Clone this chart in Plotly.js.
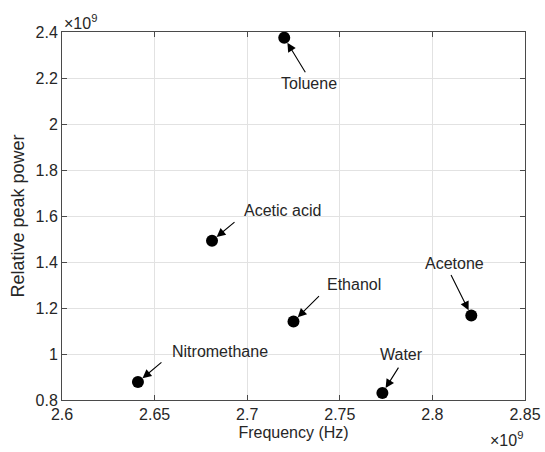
<!DOCTYPE html>
<html>
<head>
<meta charset="utf-8">
<script src="https://cdn.plot.ly/plotly-3.0.1.min.js"></script>
<style>html,body{margin:0;padding:0;background:#fff;}#chart{width:545px;height:452px;}</style>
</head>
<body>
<div id="chart"></div>
<script>
// Values in units of 1e9 (axes show the ×10^9 multiplier)
const solvents = ["Toluene", "Acetic acid", "Ethanol", "Nitromethane", "Water", "Acetone"];
const frequency = [2.720, 2.681, 2.725, 2.641, 2.773, 2.821];   // ×10^9 Hz
const peakPower = [2.375, 1.492, 1.141, 0.878, 0.830, 1.167];   // ×10^9
const xTicks = [2.6, 2.65, 2.7, 2.75, 2.8, 2.85];
const xTickLabels = ["2.6", "2.65", "2.7", "2.75", "2.8", "2.85"];
const yTicks = [0.8, 1, 1.2, 1.4, 1.6, 1.8, 2, 2.2, 2.4];
const yTickLabels = ["0.8", "1", "1.2", "1.4", "1.6", "1.8", "2", "2.2", "2.4"];

// label placement (pixels relative to the point): arrow tail and text centre
const arrowTail = {
  "Toluene": [22, 36], "Acetic acid": [24, -20], "Ethanol": [27, -27],
  "Nitromethane": [25, -21], "Water": [17, -27], "Acetone": [-21, -42]
};
const textCentre = {
  "Toluene": [25, 46], "Acetic acid": [70, -30], "Ethanol": [60, -37],
  "Nitromethane": [82, -31], "Water": [19, -39], "Acetone": [-17, -52]
};

const FONT = "Liberation Sans, Arial, Helvetica, sans-serif";
const ink = "#262626";

const annotations = [];
solvents.forEach((s, i) => {
  annotations.push({
    x: frequency[i], y: peakPower[i], xref: "x", yref: "y",
    text: "", showarrow: true, ax: arrowTail[s][0], ay: arrowTail[s][1],
    axref: "pixel", ayref: "pixel",
    arrowhead: 2, arrowsize: 1.6, arrowwidth: 1.1, arrowcolor: "#000",
    standoff: 6
  });
  annotations.push({
    x: frequency[i], y: peakPower[i], xref: "x", yref: "y",
    text: s, showarrow: false,
    xshift: textCentre[s][0], yshift: -textCentre[s][1],
    xanchor: "center", yanchor: "middle",
    font: {family: FONT, size: 16, color: ink}
  });
});
// exponent labels
annotations.push({
  xref: "paper", yref: "paper", x: 0, y: 1, xanchor: "left", yanchor: "bottom",
  text: "×10<sup>9</sup>", showarrow: false, xshift: 0, yshift: -2,
  font: {family: FONT, size: 16, color: ink}
});
annotations.push({
  xref: "paper", yref: "paper", x: 1, y: 0, xanchor: "right", yanchor: "top",
  text: "×10<sup>9</sup>", showarrow: false, xshift: 0, yshift: -27,
  font: {family: FONT, size: 16, color: ink}
});

const trace = {
  x: frequency, y: peakPower, type: "scatter", mode: "markers",
  marker: {size: 12, color: "#000"},
  hoverinfo: "skip"
};

const axisCommon = {
  showline: true, linecolor: "#4a4a4a", linewidth: 1, mirror: "ticks",
  ticks: "inside", ticklen: 5, tickcolor: "#4a4a4a", tickwidth: 1,
  showgrid: true, gridcolor: "#e2e2e2", gridwidth: 1,
  zeroline: false,
  tickfont: {family: FONT, size: 16, color: ink}
};

const layout = {
  width: 545, height: 452,
  margin: {l: 62, r: 20, t: 32, b: 52},
  paper_bgcolor: "#fff", plot_bgcolor: "#fff",
  showlegend: false,
  xaxis: Object.assign({}, axisCommon, {
    range: [2.6, 2.85], tickvals: xTicks, ticktext: xTickLabels,
    title: {text: "Frequency (Hz)", font: {family: FONT, size: 16, color: ink}, standoff: 4}
  }),
  yaxis: Object.assign({}, axisCommon, {
    range: [0.8, 2.4], tickvals: yTicks, ticktext: yTickLabels,
    title: {text: "Relative peak power", font: {family: FONT, size: 18, color: ink}, standoff: 6}
  }),
  annotations: annotations
};

Plotly.newPlot("chart", [trace], layout, {displayModeBar: false, staticPlot: true});
</script>
</body>
</html>
